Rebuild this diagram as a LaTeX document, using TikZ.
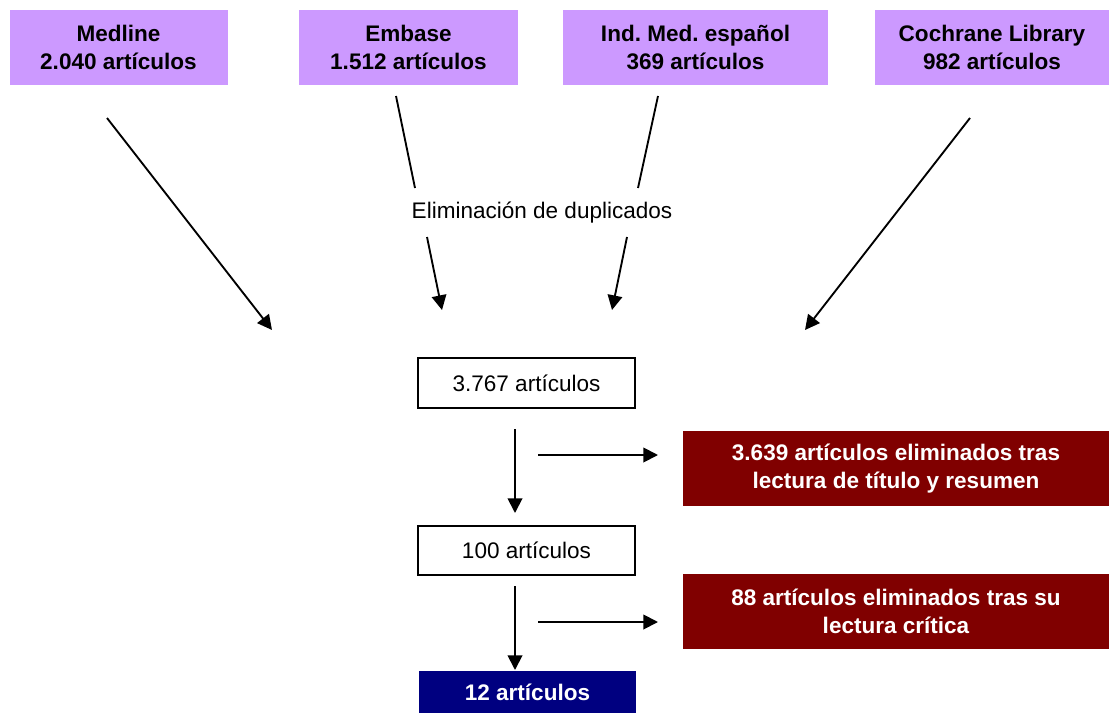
\documentclass[tikz,border=0pt]{standalone}
\usepackage{fontspec}
\setmainfont{Liberation Sans}
\usetikzlibrary{arrows.meta}
\definecolor{lav}{HTML}{CC99FF}
\definecolor{dred}{HTML}{800000}
\definecolor{navy}{HTML}{000080}
\frenchspacing
\tikzset{
  basebox/.style={inner sep=0pt, align=center, font=\fontsize{16.9}{21}\selectfont},
  srcbox/.style={basebox, fill=lav, text=black, font=\fontsize{16.9}{21}\selectfont\bfseries, minimum height=56.25pt},
  whitebox/.style={basebox, draw=black, line width=1.1pt, fill=white, minimum width=162.75pt},
  redbox/.style={basebox, fill=dred, text=white, font=\fontsize{16.9}{21}\selectfont\bfseries, minimum width=319.5pt, minimum height=56.25pt},
  bluebox/.style={basebox, fill=navy, text=white, font=\fontsize{16.9}{21}\selectfont\bfseries, minimum width=162.75pt, minimum height=31.5pt},
  conn/.style={line width=1.4pt, black},
  arr/.style={conn, -{Triangle[length=11pt,width=11pt]}}
}
\begin{document}
\begin{tikzpicture}[x=0.75pt,y=-0.75pt]
\useasboundingbox (0,0) rectangle (1109,713);
% source boxes
\node[srcbox, minimum width=163.5pt] (med) at (118.5,47.5) {Medline\\2.040 artículos};
\node[srcbox, minimum width=164.25pt] (emb) at (408.5,47.5) {Embase\\1.512 artículos};
\node[srcbox, minimum width=198.75pt] (ime) at (695.5,47.5) {Ind. Med. español\\369 artículos};
\node[srcbox, minimum width=175.5pt] (coc) at (992,47.5) {Cochrane Library\\982 artículos};
% label
\node[basebox] (dup) at (542,213) {Eliminación de duplicados};
% flow boxes
\node[whitebox, minimum height=37.5pt] (b1) at (526.5,383) {3.767 artículos};
\node[whitebox, minimum height=36.75pt] (b2) at (526.5,550.5) {100 artículos};
\node[bluebox] (b3) at (527.5,692) {12 artículos};
\node[redbox] (r1) at (896,468.5) {3.639 artículos eliminados tras\\lectura de título y resumen};
\node[redbox] (r2) at (896,611.5) {88 artículos eliminados tras su\\lectura crítica};
% coordinates
\coordinate (a1s) at (107,118); \coordinate (a1e) at (272,330);
\coordinate (a2s) at (396,96);  \coordinate (a2m) at (415,188);
\coordinate (a2n) at (427,237); \coordinate (a2e) at (442,310);
\coordinate (a3s) at (658,96);  \coordinate (a3m) at (638,188);
\coordinate (a3n) at (627,237); \coordinate (a3e) at (612,310);
\coordinate (a4s) at (970,118); \coordinate (a4e) at (805,330);
\coordinate (d1s) at (515,429); \coordinate (d1e) at (515,513);
\coordinate (h1s) at (538,455); \coordinate (h1e) at (658,455);
\coordinate (d2s) at (515,586); \coordinate (d2e) at (515,670);
\coordinate (h2s) at (538,622); \coordinate (h2e) at (658,622);
% connectors
\draw[arr] (a1s) -- (a1e);
\draw[conn] (a2s) -- (a2m);
\draw[arr] (a2n) -- (a2e);
\draw[conn] (a3s) -- (a3m);
\draw[arr] (a3n) -- (a3e);
\draw[arr] (a4s) -- (a4e);
\draw[arr] (d1s) -- (d1e);
\draw[arr] (h1s) -- (h1e);
\draw[arr] (d2s) -- (d2e);
\draw[arr] (h2s) -- (h2e);
\end{tikzpicture}
\end{document}
